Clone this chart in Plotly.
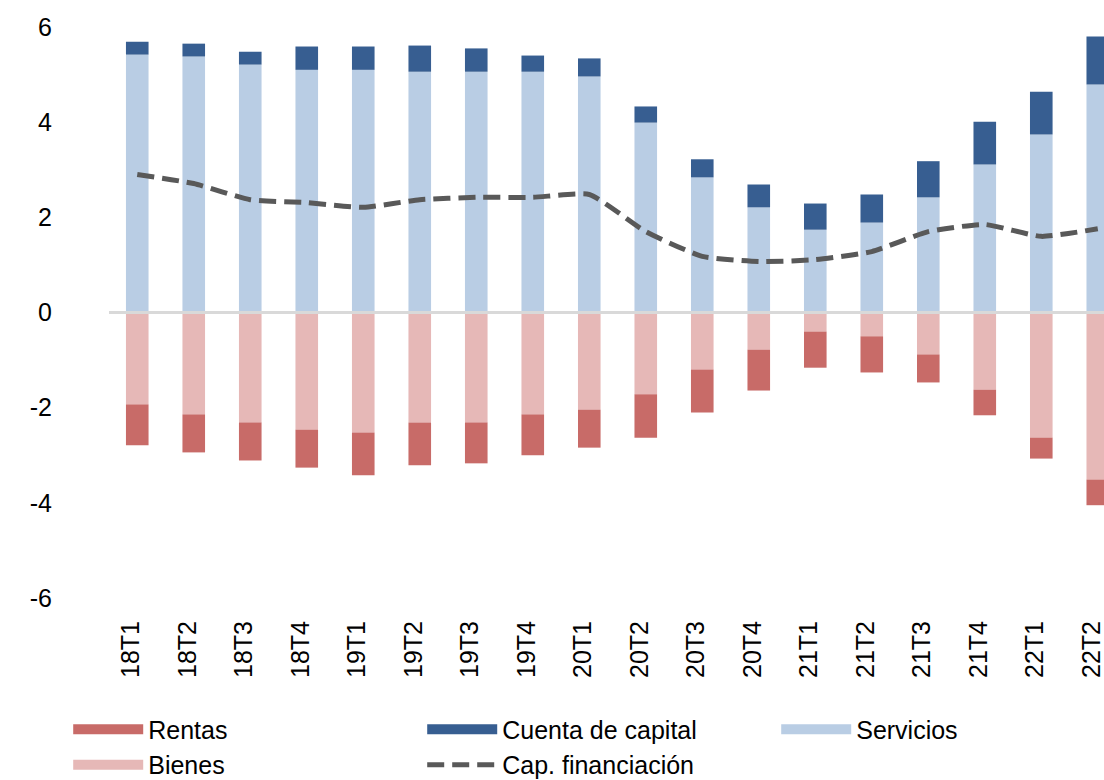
import plotly.graph_objects as go

categories = ["18T1", "18T2", "18T3", "18T4", "19T1", "19T2", "19T3", "19T4", "20T1",
              "20T2", "20T3", "20T4", "21T1", "21T2", "21T3", "21T4", "22T1", "22T2"]

servicios = [5.42, 5.38, 5.21, 5.10, 5.10, 5.06, 5.06, 5.06, 4.96,
             3.99, 2.84, 2.21, 1.74, 1.89, 2.42, 3.11, 3.74, 4.79]
cuenta_capital = [0.27, 0.27, 0.27, 0.49, 0.49, 0.55, 0.49, 0.34, 0.38,
                  0.34, 0.38, 0.48, 0.55, 0.59, 0.76, 0.90, 0.90, 1.01]
bienes = [-1.93, -2.14, -2.31, -2.46, -2.52, -2.31, -2.31, -2.14, -2.04,
          -1.72, -1.20, -0.78, -0.40, -0.50, -0.88, -1.62, -2.63, -3.51]
rentas = [-0.86, -0.80, -0.80, -0.80, -0.90, -0.90, -0.86, -0.86, -0.80,
          -0.91, -0.90, -0.86, -0.76, -0.76, -0.59, -0.54, -0.44, -0.54]
cap_financiacion = [2.90, 2.71, 2.37, 2.31, 2.21, 2.37, 2.42, 2.42, 2.48,
                    1.70, 1.18, 1.07, 1.11, 1.28, 1.70, 1.85, 1.60, 1.76]

y_ticks = [-6, -4, -2, 0, 2, 4, 6]
y_tick_labels = ["-6", "-4", "-2", "0", "2", "4", "6"]

FONT = "Liberation Sans, Arial, sans-serif"
BAR_W = 0.4

C_SERV = "#B9CDE4"
C_CAP = "#375E91"
C_BIEN = "#E6B8B7"
C_RENT = "#C86B68"
C_LINE = "#595959"

fig = go.Figure()
# Data bars (legend shown through wide patch entries below)
fig.add_trace(go.Bar(x=categories, y=servicios, name="Servicios", width=BAR_W,
                     marker=dict(color=C_SERV, line=dict(width=0)), showlegend=False,
                     legendgroup="serv"))
fig.add_trace(go.Bar(x=categories, y=cuenta_capital, name="Cuenta de capital", width=BAR_W,
                     marker=dict(color=C_CAP, line=dict(width=0)), showlegend=False,
                     legendgroup="cap"))
fig.add_trace(go.Bar(x=categories, y=bienes, name="Bienes", width=BAR_W,
                     marker=dict(color=C_BIEN, line=dict(width=0)), showlegend=False,
                     legendgroup="bien"))
fig.add_trace(go.Bar(x=categories, y=rentas, name="Rentas", width=BAR_W,
                     marker=dict(color=C_RENT, line=dict(width=0)), showlegend=False,
                     legendgroup="rent"))
fig.add_trace(go.Scatter(x=categories, y=cap_financiacion, name="Cap. financiación",
                         mode="lines", line=dict(color=C_LINE, width=5, dash="17px,8px",
                                                 shape="spline", smoothing=0.5),
                         legendrank=5))

# Legend patch entries (wide rectangles, as in the original legend)
for name, color, rank, grp in [("Rentas", C_RENT, 1, "rent"),
                               ("Cuenta de capital", C_CAP, 2, "cap"),
                               ("Servicios", C_SERV, 3, "serv"),
                               ("Bienes", C_BIEN, 4, "bien")]:
    fig.add_trace(go.Scatter(x=[None], y=[None], mode="lines", name=name,
                             line=dict(color=color, width=15), legendrank=rank,
                             legendgroup=grp, hoverinfo="skip"))

fig.add_shape(type="line", xref="paper", x0=0, x1=1, yref="y", y0=0, y1=0,
              line=dict(color="#D9D9D9", width=3), layer="above")

fig.update_layout(
    width=1104, height=780,
    margin=dict(l=109, r=0, t=27, b=182, autoexpand=False),
    barmode="relative",
    plot_bgcolor="white", paper_bgcolor="white",
    font=dict(family=FONT, size=25, color="#000000"),
    xaxis=dict(range=[-0.5, 17.11], tickangle=-90, showgrid=False, showline=False,
               zeroline=False, ticks="", tickfont=dict(size=25), ticklabelstandoff=17,
               ticklabelshift=-6, automargin=False),
    yaxis=dict(range=[-6, 6], tickvals=y_ticks, ticktext=y_tick_labels, showgrid=False,
               showline=False, zeroline=False, ticks="", tickfont=dict(size=25),
               ticklabelstandoff=56, automargin=False),
    legend=dict(orientation="h", x=-0.041, xanchor="left", y=-0.19, yanchor="top",
                entrywidth=269, entrywidthmode="pixels", itemwidth=70,
                font=dict(size=25), traceorder="normal", bgcolor="rgba(0,0,0,0)",
                tracegroupgap=0),
    showlegend=True,
)

fig.write_html("out.html", config={"displayModeBar": False},
               post_script="document.body.style.margin='0';")
